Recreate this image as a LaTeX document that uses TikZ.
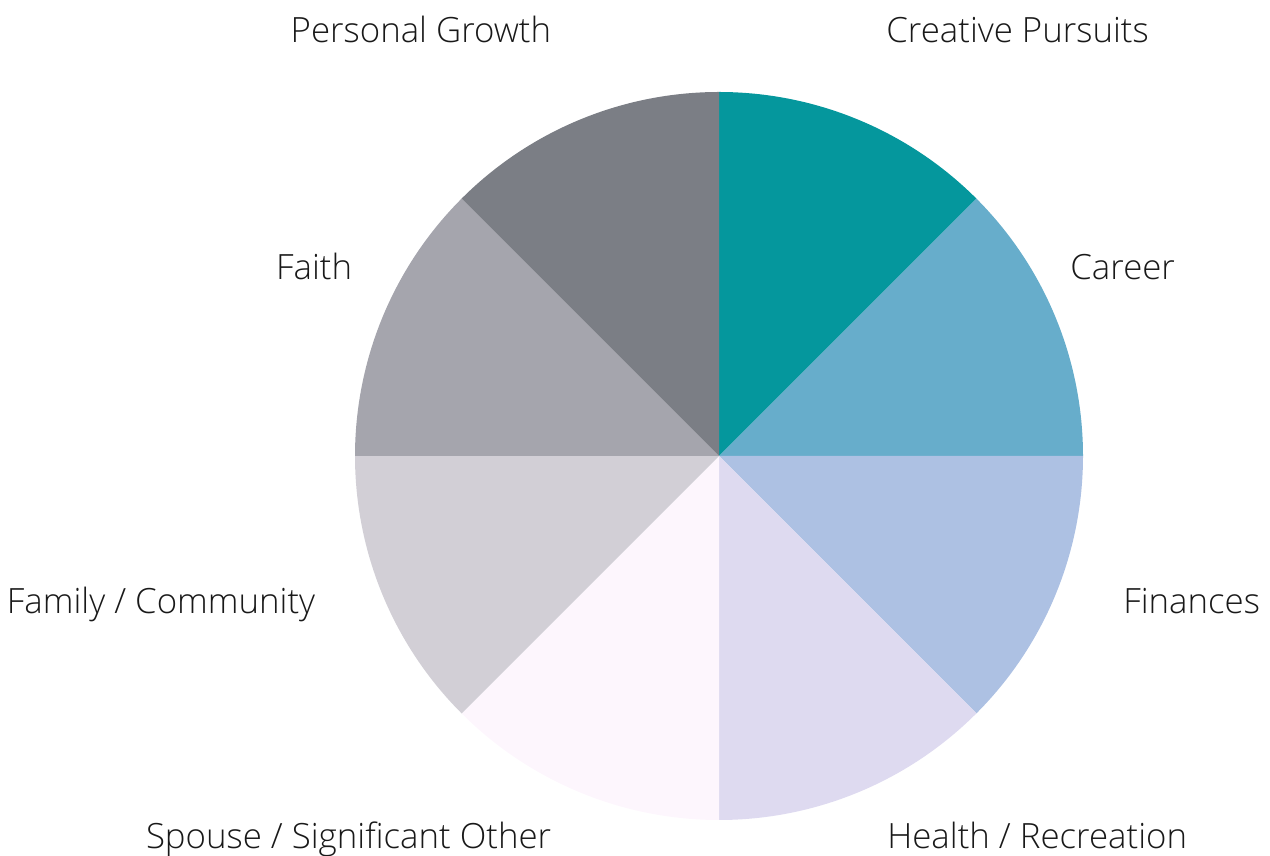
\documentclass[tikz,border=0pt]{standalone}
\usepackage{fontspec}
\IfFontExistsTF{Open Sans Light}{\setmainfont{Open Sans Light}}{\setmainfont{Open Sans}}
\usepackage{tikz}
\usetikzlibrary{positioning}
\definecolor{creativecol}{HTML}{05979D}
\definecolor{careercol}{HTML}{67ADCB}
\definecolor{financescol}{HTML}{ADC1E3}
\definecolor{healthcol}{HTML}{DEDAF0}
\definecolor{spousecol}{HTML}{FDF6FD}
\definecolor{familycol}{HTML}{D2CFD6}
\definecolor{faithcol}{HTML}{A5A5AD}
\definecolor{growthcol}{HTML}{7B7E85}
\tikzset{
  wheellabel/.style={font=\fontsize{19.8}{24}\selectfont, text=black!90, inner sep=0pt},
}
\begin{document}
\begin{tikzpicture}
  \useasboundingbox (0,0) rectangle (25.4,17.12);
  \coordinate (hub) at (14.38,8.0);
  % slices, clockwise from the top
  \foreach \col [count=\i] in {creativecol,careercol,financescol,healthcol,spousecol,familycol,faithcol,growthcol} {
    \fill[\col] (hub) -- ++({135-45*\i}:7.28) arc[start angle={135-45*\i}, end angle={90-45*\i}, radius=7.28] -- cycle;
  }
  \node[wheellabel, anchor=base east] (growthlbl) at (11.03,16.26) {Personal Growth};
  \node[wheellabel, anchor=base west] (creativelbl) at (17.72,16.26) {Creative Pursuits};
  \node[wheellabel, anchor=base east] (faithlbl) at (7.05,11.52) {Faith};
  \node[wheellabel, anchor=base west] (careerlbl) at (21.4,11.52) {Career};
  \node[wheellabel, anchor=base east] (familylbl) at (6.31,4.84) {Family / Community};
  \node[wheellabel, anchor=base west] (financeslbl) at (22.46,4.84) {Finances};
  \node[wheellabel, anchor=base east] (spouselbl) at (11.03,0.14) {Spouse / Significant Other};
  \node[wheellabel, anchor=base west] (healthlbl) at (17.74,0.14) {Health / Recreation};
\end{tikzpicture}
\end{document}
